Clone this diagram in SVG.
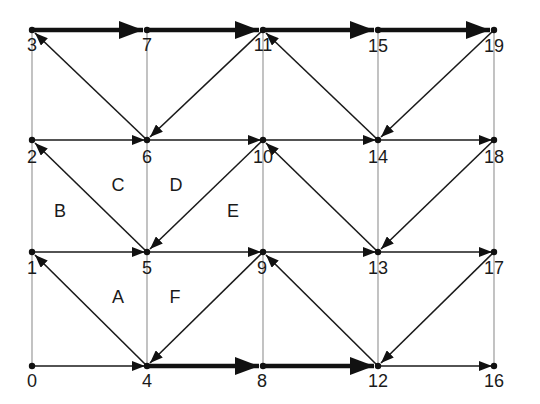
<svg xmlns="http://www.w3.org/2000/svg" width="540" height="404" viewBox="0 0 540 404">
<style>
.grid{stroke:#9a9a9a;stroke-width:1.2;fill:none}
.a{stroke:#1a1a1a;stroke-width:1.6;fill:none;marker-end:url(#sm)}
.t{stroke:#111;stroke-width:4.5;fill:none;marker-end:url(#bg)}
.lbl{font-family:"Liberation Sans",Arial,sans-serif;font-size:18px;fill:#1a1a1a;text-anchor:middle}
.dot{fill:#111}
</style>
<defs>
<marker id="sm" viewBox="0 0 13 10" refX="13" refY="5" markerWidth="13" markerHeight="10" markerUnits="userSpaceOnUse" orient="auto"><path d="M0,0 L13,5 L0,10 z" fill="#111"/></marker>
<marker id="bg" viewBox="0 0 24 18" refX="24" refY="9" markerWidth="24" markerHeight="18" markerUnits="userSpaceOnUse" orient="auto"><path d="M0,0 L24,9 L0,18 z" fill="#111"/></marker>
</defs>
<rect width="540" height="404" fill="#fff"/>
<g id="grid">
<line class="grid" x1="32" y1="30" x2="32" y2="366"/>
<line class="grid" x1="147" y1="30" x2="147" y2="366"/>
<line class="grid" x1="263" y1="30" x2="263" y2="366"/>
<line class="grid" x1="378" y1="30" x2="378" y2="366"/>
<line class="grid" x1="494" y1="30" x2="494" y2="366"/>
</g>
<g id="connectors">
<line class="t" x1="32" y1="30" x2="143" y2="30"/>
<line class="t" x1="147" y1="30" x2="259" y2="30"/>
<line class="t" x1="263" y1="30" x2="374" y2="30"/>
<line class="t" x1="378" y1="30" x2="490" y2="30"/>
<line class="a" x1="32" y1="140" x2="145" y2="140"/>
<line class="a" x1="147" y1="140" x2="261" y2="140"/>
<line class="a" x1="263" y1="140" x2="376" y2="140"/>
<line class="a" x1="378" y1="140" x2="492" y2="140"/>
<line class="a" x1="32" y1="252" x2="145" y2="252"/>
<line class="a" x1="147" y1="252" x2="261" y2="252"/>
<line class="a" x1="263" y1="252" x2="376" y2="252"/>
<line class="a" x1="378" y1="252" x2="492" y2="252"/>
<line class="a" x1="32" y1="366" x2="145" y2="366"/>
<line class="t" x1="147" y1="366" x2="259" y2="366"/>
<line class="t" x1="263" y1="366" x2="374" y2="366"/>
<line class="a" x1="378" y1="366" x2="492" y2="366"/>
<line class="a" x1="147" y1="140" x2="35" y2="33"/>
<line class="a" x1="263" y1="30" x2="150" y2="137"/>
<line class="a" x1="378" y1="140" x2="266" y2="33"/>
<line class="a" x1="494" y1="30" x2="381" y2="137"/>
<line class="a" x1="147" y1="252" x2="35" y2="143"/>
<line class="a" x1="263" y1="140" x2="150" y2="249"/>
<line class="a" x1="378" y1="252" x2="266" y2="143"/>
<line class="a" x1="494" y1="140" x2="381" y2="249"/>
<line class="a" x1="147" y1="366" x2="35" y2="255"/>
<line class="a" x1="263" y1="252" x2="150" y2="363"/>
<line class="a" x1="378" y1="366" x2="266" y2="255"/>
<line class="a" x1="494" y1="252" x2="381" y2="363"/>
</g>
<g id="n0"><circle class="dot" cx="32" cy="366" r="3.2"/><text class="lbl" x="32" y="387">0</text></g>
<g id="n1"><circle class="dot" cx="32" cy="252" r="3.2"/><text class="lbl" x="32" y="274">1</text></g>
<g id="n2"><circle class="dot" cx="32" cy="140" r="3.2"/><text class="lbl" x="32" y="163">2</text></g>
<g id="n3"><circle class="dot" cx="32" cy="30" r="3.2"/><text class="lbl" x="32" y="51">3</text></g>
<g id="n4"><circle class="dot" cx="147" cy="366" r="3.2"/><text class="lbl" x="147" y="387">4</text></g>
<g id="n5"><circle class="dot" cx="147" cy="252" r="3.2"/><text class="lbl" x="147" y="274">5</text></g>
<g id="n6"><circle class="dot" cx="147" cy="140" r="3.2"/><text class="lbl" x="147" y="163">6</text></g>
<g id="n7"><circle class="dot" cx="147" cy="30" r="3.2"/><text class="lbl" x="147" y="51">7</text></g>
<g id="n8"><circle class="dot" cx="263" cy="366" r="3.2"/><text class="lbl" x="262" y="387">8</text></g>
<g id="n9"><circle class="dot" cx="263" cy="252" r="3.2"/><text class="lbl" x="262" y="274">9</text></g>
<g id="n10"><circle class="dot" cx="263" cy="140" r="3.2"/><text class="lbl" x="263" y="163">10</text></g>
<g id="n11"><circle class="dot" cx="263" cy="30" r="3.2"/><text class="lbl" x="263" y="51">11</text></g>
<g id="n12"><circle class="dot" cx="378" cy="366" r="3.2"/><text class="lbl" x="378" y="387">12</text></g>
<g id="n13"><circle class="dot" cx="378" cy="252" r="3.2"/><text class="lbl" x="378" y="274">13</text></g>
<g id="n14"><circle class="dot" cx="378" cy="140" r="3.2"/><text class="lbl" x="378" y="163">14</text></g>
<g id="n15"><circle class="dot" cx="378" cy="30" r="3.2"/><text class="lbl" x="378" y="52">15</text></g>
<g id="n16"><circle class="dot" cx="494" cy="366" r="3.2"/><text class="lbl" x="494" y="387">16</text></g>
<g id="n17"><circle class="dot" cx="494" cy="252" r="3.2"/><text class="lbl" x="494" y="274">17</text></g>
<g id="n18"><circle class="dot" cx="494" cy="140" r="3.2"/><text class="lbl" x="494" y="163">18</text></g>
<g id="n19"><circle class="dot" cx="494" cy="30" r="3.2"/><text class="lbl" x="494" y="52">19</text></g>
<g id="regions">
<text class="lbl" x="118" y="303">A</text>
<text class="lbl" x="60" y="217">B</text>
<text class="lbl" x="118" y="191">C</text>
<text class="lbl" x="176" y="191">D</text>
<text class="lbl" x="233" y="217">E</text>
<text class="lbl" x="175" y="303">F</text>
</g>
</svg>
